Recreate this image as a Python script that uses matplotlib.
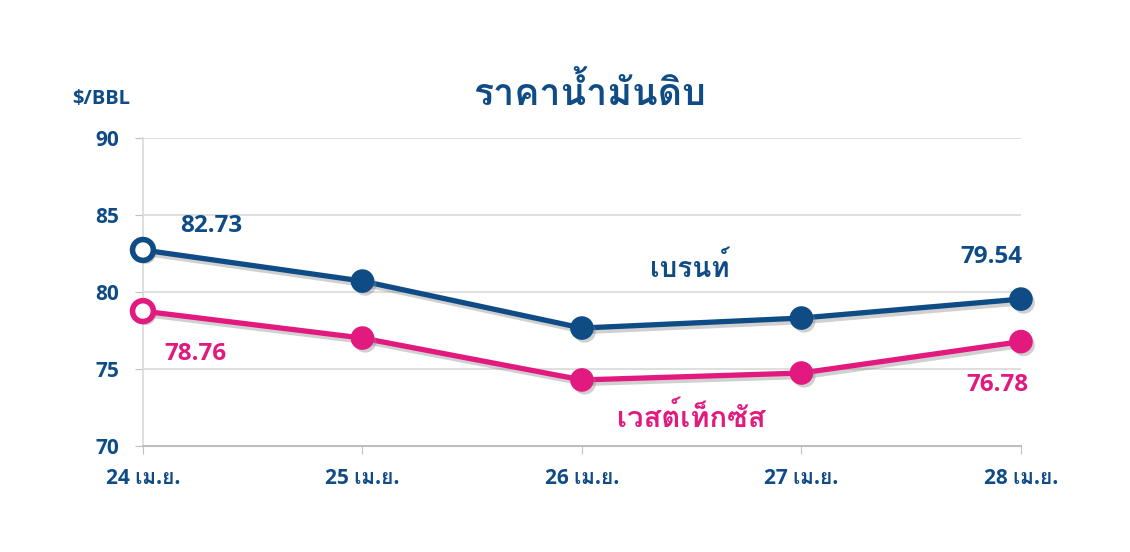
import matplotlib
matplotlib.use("Agg")
import matplotlib.pyplot as plt
import matplotlib.patheffects as pe
from matplotlib import font_manager
from matplotlib.ft2font import FT2Font

dates = ["24 เม.ย.", "25 เม.ย.", "26 เม.ย.", "27 เม.ย.", "28 เม.ย."]
brent = [82.73, 80.71, 77.66, 78.31, 79.54]
wti = [78.76, 77.01, 74.29, 74.74, 76.78]
y_ticks = [70, 75, 80, 85, 90]

BLUE = "#0f4c86"
PINK = "#e2197f"


def thai_family():
    # find an installed font that has Thai glyphs
    for f in font_manager.fontManager.ttflist:
        try:
            if 0x0E01 in FT2Font(f.fname).get_charmap():
                return f.name
        except Exception:
            continue
    return "DejaVu Sans"


thai = thai_family()
fam = ["Open Sans", thai, "DejaVu Sans"]
plt.rcParams["font.family"] = fam

fig = plt.figure(figsize=(11.3, 5.52), dpi=100)
ax = fig.add_axes([0.1265, 0.192, 0.777, 0.558])

x = list(range(len(dates)))
line_fx = [pe.SimpleLineShadow(offset=(2, -2.5), shadow_color="#8a8a8a", alpha=0.4), pe.Normal()]
mark_fx = [pe.SimplePatchShadow(offset=(2, -2.5), shadow_rgbFace="#8a8a8a", alpha=0.4), pe.Normal()]

for vals, col in [(brent, BLUE), (wti, PINK)]:
    ax.plot(x, vals, color=col, lw=3.8, path_effects=line_fx, zorder=3,
            solid_capstyle="round", clip_on=False)
    ax.plot(x[1:], vals[1:], ls="none", marker="o", ms=16, mfc=col, mec=col,
            path_effects=mark_fx, zorder=4, clip_on=False)
    ax.plot(x[:1], vals[:1], ls="none", marker="o", ms=15, mfc="white", mec=col,
            mew=4, path_effects=mark_fx, zorder=4, clip_on=False)

ax.set_xlim(0, len(dates) - 1)
ax.set_ylim(70, 90)
ax.set_yticks(y_ticks)
ax.set_xticks(x)
ax.set_xticklabels(dates)
ax.grid(axis="y", color="#d9d9d9", lw=1.2)
ax.set_axisbelow(True)
for s in ["top", "right"]:
    ax.spines[s].set_visible(False)
ax.spines["left"].set_color("#d9d9d9")
ax.spines["bottom"].set_color("#bfbfbf")
ax.spines["left"].set_linewidth(1.2)
ax.spines["bottom"].set_linewidth(1.5)
ax.tick_params(axis="y", length=6, color="#bfbfbf", labelsize=15, labelcolor=BLUE, pad=11)
ax.tick_params(axis="x", length=6, color="#bfbfbf", labelsize=15, labelcolor=BLUE, pad=10)
for lab in ax.get_xticklabels() + ax.get_yticklabels():
    lab.set_fontweight("bold")

# value labels
lbl = dict(fontsize=17.5, fontweight="bold", ha="center", va="center", textcoords="offset points")
ax.annotate(f"{brent[0]:.2f}", (x[0], brent[0]), xytext=(49, 17), color=BLUE, **lbl)
ax.annotate(f"{wti[0]:.2f}", (x[0], wti[0]), xytext=(38, -31), color=PINK, **lbl)
ax.annotate(f"{brent[-1]:.2f}", (x[-1], brent[-1]), xytext=(-21, 30), color=BLUE, **lbl)
ax.annotate(f"{wti[-1]:.2f}", (x[-1], wti[-1]), xytext=(-17, -31), color=PINK, **lbl)

ax.text(0.623, 0.575, "เบรนท์", transform=ax.transAxes, color=BLUE, fontsize=20,
        fontweight="bold", ha="center", va="center")
ax.text(0.625, 0.09, "เวสต์เท็กซัส", transform=ax.transAxes, color=PINK, fontsize=21,
        fontweight="bold", ha="center", va="center")

fig.text(0.522, 0.828, "ราคาน้ำมันดิบ", color=BLUE, fontsize=27, fontweight="bold",
         ha="center", va="center")
fig.text(0.064, 0.82, "$/BBL", color=BLUE, fontsize=14.5, fontweight="bold",
         ha="left", va="center")

fig.savefig("out.png", dpi=100, facecolor="white")
